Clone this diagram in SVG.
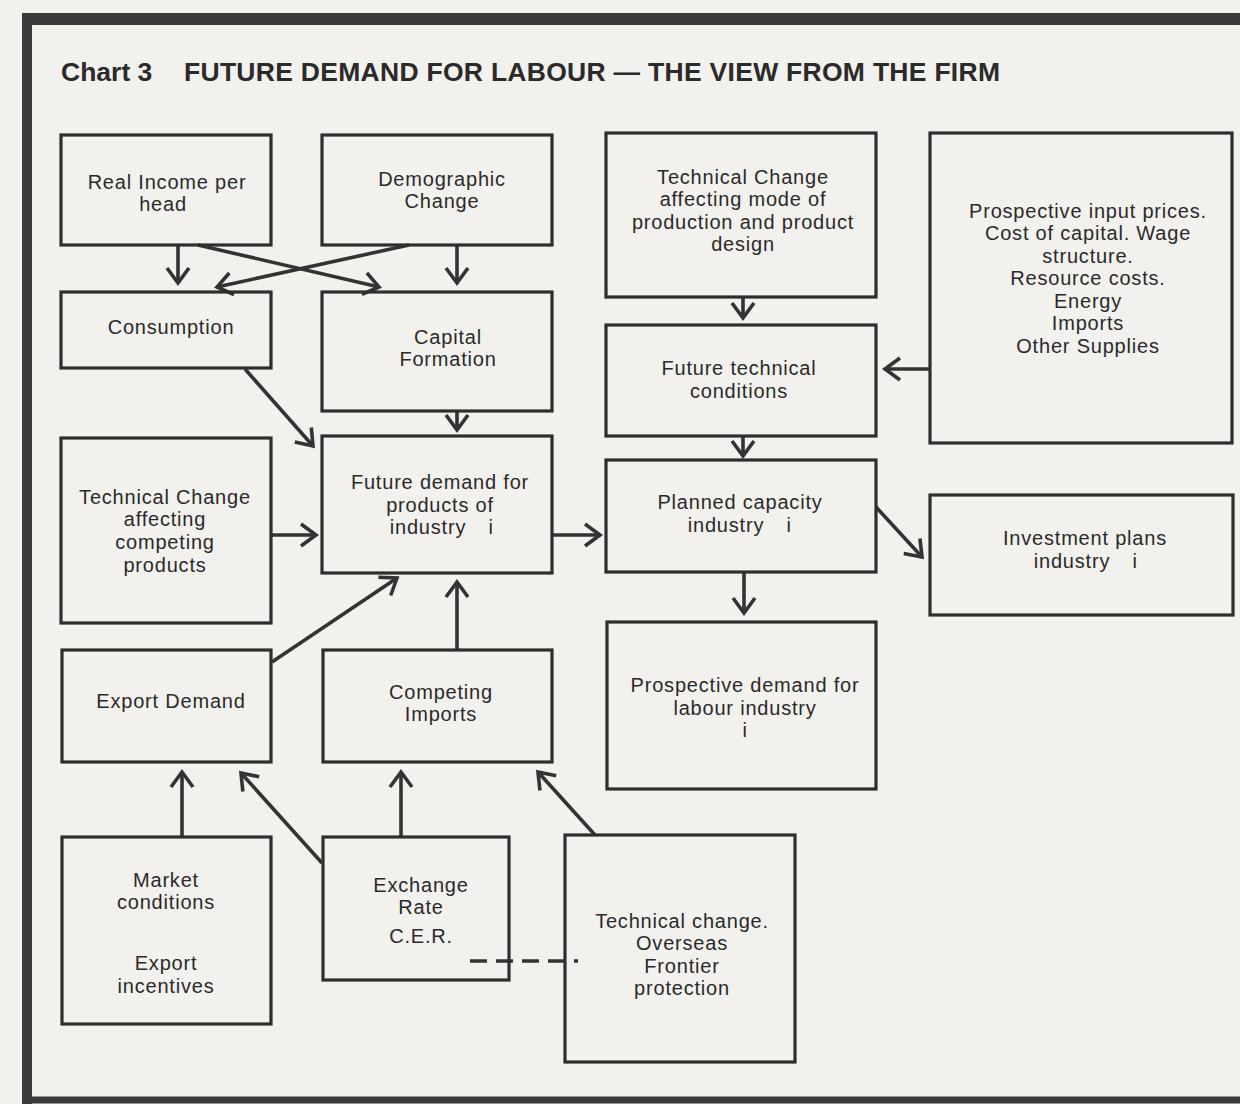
<svg xmlns="http://www.w3.org/2000/svg" width="1240" height="1104" viewBox="0 0 1240 1104">
  <defs>
    <style>
      .bg { fill: #f2f1ed; }
      .frame { stroke: #3a3a3a; fill: none; }
      .box { fill: none; stroke: #2e2e2e; stroke-width: 3.2; }
      .t { font-family: "Liberation Sans", Arial, Helvetica, sans-serif; font-size: 20px; letter-spacing: 0.8px; fill: #2a2a2a; text-anchor: middle; }
      .title { font-family: "Liberation Sans", Arial, Helvetica, sans-serif; font-size: 26.5px; font-weight: bold; fill: #2a2a2a; }
      .c { stroke: #333; stroke-width: 3.6; fill: none; stroke-linecap: butt; }
      .arrow { marker-end: url(#ah); }
      .dash { stroke-dasharray: 17 9; }
    </style>
    <marker id="ah" viewBox="0 0 24 24" refX="22" refY="12" markerWidth="24" markerHeight="24" markerUnits="userSpaceOnUse" orient="auto" overflow="visible">
      <path d="M7,1 L22,12 L7,23" fill="none" stroke="#333" stroke-width="3.6" stroke-linejoin="miter"/>
    </marker>
  </defs>

  <rect class="bg" x="0" y="0" width="1240" height="1104"/>

  <g id="frame">
    <line class="frame" x1="22" y1="19" x2="1240" y2="19" stroke-width="12"/>
    <line class="frame" x1="27" y1="13" x2="27" y2="1104" stroke-width="10"/>
    <line class="frame" x1="22" y1="1100" x2="1240" y2="1100" stroke-width="7"/>
  </g>

  <g id="title">
    <text class="title" x="61" y="81">Chart 3</text>
    <text class="title" x="184" y="81" textLength="816" lengthAdjust="spacing">FUTURE DEMAND FOR LABOUR — THE VIEW FROM THE FIRM</text>
  </g>

  <g id="connectors">
    <line class="c arrow" x1="178" y1="245" x2="178" y2="283"/>
    <line class="c arrow" x1="457" y1="245" x2="457" y2="283"/>
    <line class="c arrow" x1="198" y1="245" x2="379" y2="287"/>
    <line class="c arrow" x1="409" y1="245" x2="217" y2="287"/>
    <line class="c arrow" x1="245" y1="369" x2="313" y2="446"/>
    <line class="c arrow" x1="457" y1="411" x2="457" y2="430"/>
    <line class="c arrow" x1="271" y1="535" x2="316" y2="535"/>
    <line class="c arrow" x1="552" y1="535" x2="600" y2="535"/>
    <line class="c arrow" x1="743" y1="297" x2="743" y2="318"/>
    <line class="c arrow" x1="930" y1="369" x2="885" y2="369"/>
    <line class="c arrow" x1="743" y1="436" x2="743" y2="456"/>
    <line class="c arrow" x1="876" y1="507" x2="922" y2="557"/>
    <line class="c arrow" x1="744" y1="572" x2="744" y2="613"/>
    <line class="c arrow" x1="272" y1="662" x2="397" y2="578"/>
    <line class="c arrow" x1="457" y1="650" x2="457" y2="582"/>
    <line class="c arrow" x1="182" y1="837" x2="182" y2="772"/>
    <line class="c arrow" x1="322" y1="863" x2="241" y2="773"/>
    <line class="c arrow" x1="401" y1="837" x2="401" y2="772"/>
    <line class="c arrow" x1="595" y1="835" x2="538" y2="772"/>
    <line class="c dash" x1="470" y1="961" x2="578" y2="961"/>
  </g>

  <g id="real-income">
    <rect class="box" x="61" y="135" width="210" height="110"/>
    <text class="t" x="167" y="189">Real Income per</text>
    <text class="t" x="163" y="211">head</text>
  </g>

  <g id="demographic">
    <rect class="box" x="322" y="135" width="230" height="110"/>
    <text class="t" x="442" y="186">Demographic</text>
    <text class="t" x="442" y="208">Change</text>
  </g>

  <g id="tech-mode">
    <rect class="box" x="606" y="133" width="270" height="164"/>
    <text class="t" x="743" y="184">Technical Change</text>
    <text class="t" x="743" y="206">affecting mode of</text>
    <text class="t" x="743" y="229">production and product</text>
    <text class="t" x="743" y="251">design</text>
  </g>

  <g id="input-prices">
    <rect class="box" x="930" y="133" width="302" height="310"/>
    <text class="t" x="1088" y="218">Prospective input prices.</text>
    <text class="t" x="1088" y="240">Cost of capital. Wage</text>
    <text class="t" x="1088" y="263">structure.</text>
    <text class="t" x="1088" y="285">Resource costs.</text>
    <text class="t" x="1088" y="308">Energy</text>
    <text class="t" x="1088" y="330">Imports</text>
    <text class="t" x="1088" y="353">Other Supplies</text>
  </g>

  <g id="consumption">
    <rect class="box" x="61" y="292" width="210" height="76"/>
    <text class="t" x="171" y="334">Consumption</text>
  </g>

  <g id="capital-formation">
    <rect class="box" x="322" y="292" width="230" height="119"/>
    <text class="t" x="448" y="344">Capital</text>
    <text class="t" x="448" y="366">Formation</text>
  </g>

  <g id="future-technical">
    <rect class="box" x="606" y="325" width="270" height="111"/>
    <text class="t" x="739" y="375">Future technical</text>
    <text class="t" x="739" y="398">conditions</text>
  </g>

  <g id="tech-competing">
    <rect class="box" x="61" y="438" width="210" height="185"/>
    <text class="t" x="165" y="504">Technical Change</text>
    <text class="t" x="165" y="526">affecting</text>
    <text class="t" x="165" y="549">competing</text>
    <text class="t" x="165" y="572">products</text>
  </g>

  <g id="future-demand">
    <rect class="box" x="322" y="436" width="230" height="137"/>
    <text class="t" x="440" y="489">Future demand for</text>
    <text class="t" x="440" y="512">products of</text>
    <text class="t" y="534"><tspan x="428">industry</tspan><tspan x="491">i</tspan></text>
  </g>

  <g id="planned-capacity">
    <rect class="box" x="606" y="460" width="270" height="112"/>
    <text class="t" x="740" y="509">Planned capacity</text>
    <text class="t" y="532"><tspan x="726">industry</tspan><tspan x="789">i</tspan></text>
  </g>

  <g id="investment-plans">
    <rect class="box" x="930" y="495" width="303" height="120"/>
    <text class="t" x="1085" y="545">Investment plans</text>
    <text class="t" y="568"><tspan x="1072">industry</tspan><tspan x="1135">i</tspan></text>
  </g>

  <g id="prospective-demand">
    <rect class="box" x="607" y="622" width="269" height="167"/>
    <text class="t" x="745" y="692">Prospective demand for</text>
    <text class="t" x="745" y="715">labour industry</text>
    <text class="t" x="745" y="737">i</text>
  </g>

  <g id="export-demand">
    <rect class="box" x="62" y="650" width="209" height="112"/>
    <text class="t" x="171" y="708">Export Demand</text>
  </g>

  <g id="competing-imports">
    <rect class="box" x="323" y="650" width="229" height="112"/>
    <text class="t" x="441" y="699">Competing</text>
    <text class="t" x="441" y="721">Imports</text>
  </g>

  <g id="market-conditions">
    <rect class="box" x="62" y="837" width="209" height="187"/>
    <text class="t" x="166" y="887">Market</text>
    <text class="t" x="166" y="909">conditions</text>
    <text class="t" x="166" y="970">Export</text>
    <text class="t" x="166" y="993">incentives</text>
  </g>

  <g id="exchange-rate">
    <rect class="box" x="323" y="837" width="186" height="143"/>
    <text class="t" x="421" y="892">Exchange</text>
    <text class="t" x="421" y="914">Rate</text>
    <text class="t" x="421" y="943">C.E.R.</text>
  </g>

  <g id="tech-overseas">
    <rect class="box" x="565" y="835" width="230" height="227"/>
    <text class="t" x="682" y="928">Technical change.</text>
    <text class="t" x="682" y="950">Overseas</text>
    <text class="t" x="682" y="973">Frontier</text>
    <text class="t" x="682" y="995">protection</text>
  </g>
</svg>
